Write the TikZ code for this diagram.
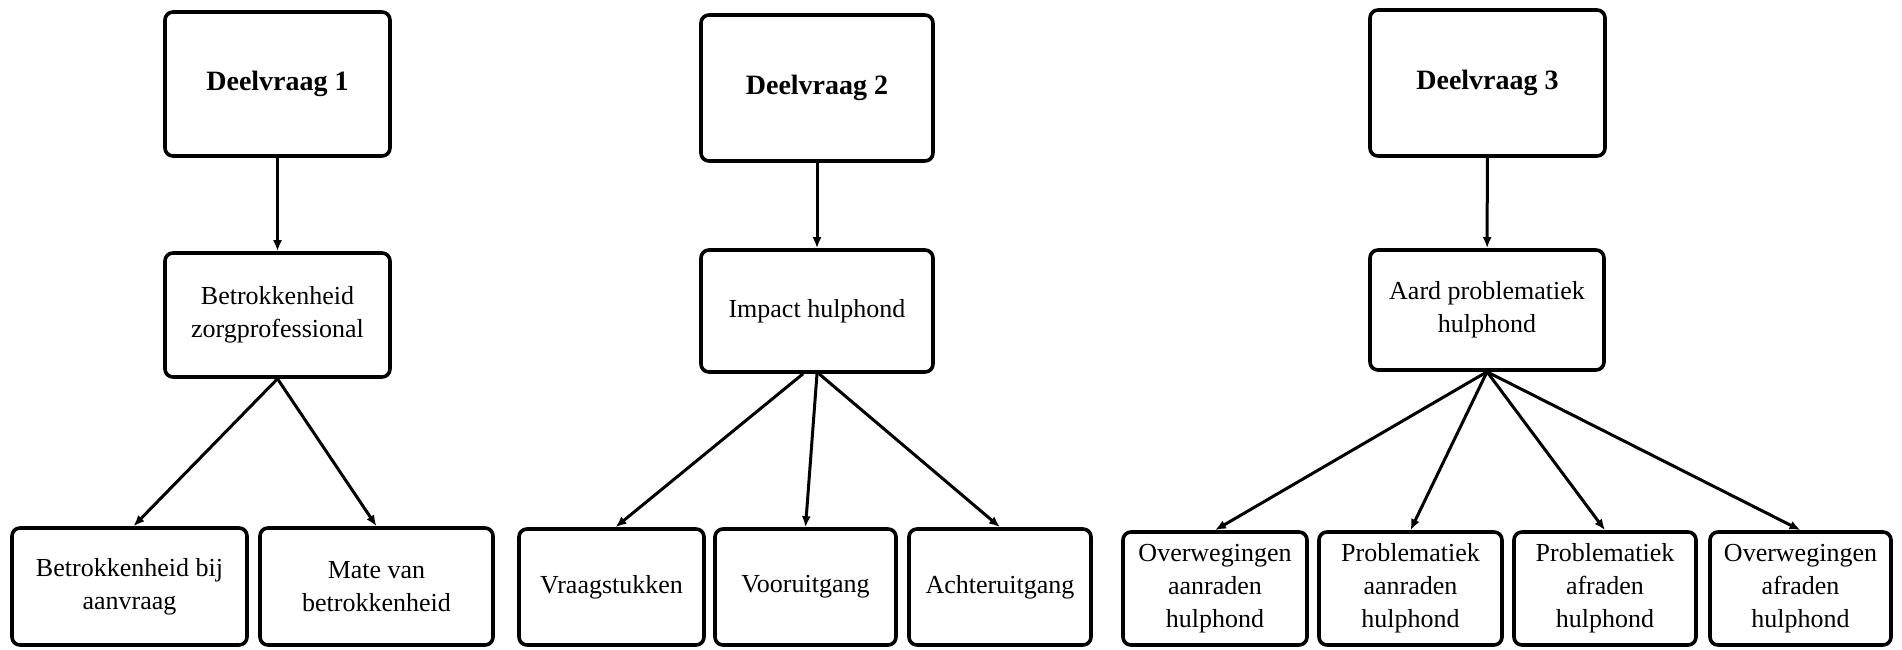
\documentclass[tikz,border=0pt]{standalone}
\usepackage{fontspec}
\setmainfont{Liberation Serif}
\usetikzlibrary{arrows.meta}
\begin{document}
\begin{tikzpicture}[x=0.5pt,y=-0.5pt,
  box/.style={draw, line width=1.8pt, rounded corners=4pt, align=center, inner sep=0pt,
    font=\fontsize{13}{16.5}\selectfont},
  head/.style={box, font=\fontsize{14}{17}\selectfont\bfseries},
  arr/.style={-{Latex[length=5.5pt,width=4.5pt]}, line width=1.5pt}]
\useasboundingbox (0,0) rectangle (1902,649);
% column 1
\node[head, minimum width=112.5pt, minimum height=72pt] (d1) at (277.5,84) {Deelvraag 1};
\node[box, minimum width=112.5pt, minimum height=62pt] (b1) at (277.5,315) {Betrokkenheid\\zorgprofessional};
\node[box, minimum width=117.5pt, minimum height=58.5pt] (l1a) at (129.5,586.5) {Betrokkenheid bij\\aanvraag};
\node[box, minimum width=116.5pt, minimum height=58.5pt] (l1b) at (376.5,586.5) {Mate van\\betrokkenheid};
% column 2
\node[head, minimum width=116pt, minimum height=73pt] (d2) at (817,88) {Deelvraag 2};
\node[box, minimum width=116pt, minimum height=61pt] (i2) at (817,311) {Impact hulphond};
\node[box, minimum width=92.5pt, minimum height=58pt] (l2a) at (611.5,587) {Vraagstukken};
\node[box, minimum width=90.5pt, minimum height=58pt] (l2b) at (805.5,587) {Vooruitgang};
\node[box, minimum width=91pt, minimum height=58pt] (l2c) at (1000,587) {Achteruitgang};
% column 3
\node[head, minimum width=117.5pt, minimum height=73pt] (d3) at (1487.5,83) {Deelvraag 3};
\node[box, minimum width=117pt, minimum height=60pt] (a3) at (1487,310) {Aard problematiek\\hulphond};
\node[box, minimum width=92pt, minimum height=56.5pt] (l3a) at (1215,588.5) {Overwegingen\\aanraden\\hulphond};
\node[box, minimum width=91.5pt, minimum height=56.5pt] (l3b) at (1410.5,588.5) {Problematiek\\aanraden\\hulphond};
\node[box, minimum width=91pt, minimum height=56.5pt] (l3c) at (1605,588.5) {Problematiek\\afraden\\hulphond};
\node[box, minimum width=90.5pt, minimum height=56.5pt] (l3d) at (1800.5,588.5) {Overwegingen\\afraden\\hulphond};
% connectors
\draw[arr] (d1) -- (b1);
\draw[arr] (b1.south) -- ([xshift=2pt]l1a.north);
\draw[arr] (b1.south) -- (l1b.north);
\draw[arr] (d2) -- (i2);
\draw[arr] ([xshift=-7pt]i2.south) -- ([xshift=2pt]l2a.north);
\draw[arr] (i2.south) -- (l2b.north);
\draw[arr] ([xshift=1pt]i2.south) -- (l2c.north);
\draw[arr] (d3) -- (a3);
\draw[arr] (a3.south) -- (l3a.north);
\draw[arr] (a3.south) -- (l3b.north);
\draw[arr] (a3.south) -- (l3c.north);
\draw[arr] (a3.south) -- (l3d.north);
\end{tikzpicture}
\end{document}
